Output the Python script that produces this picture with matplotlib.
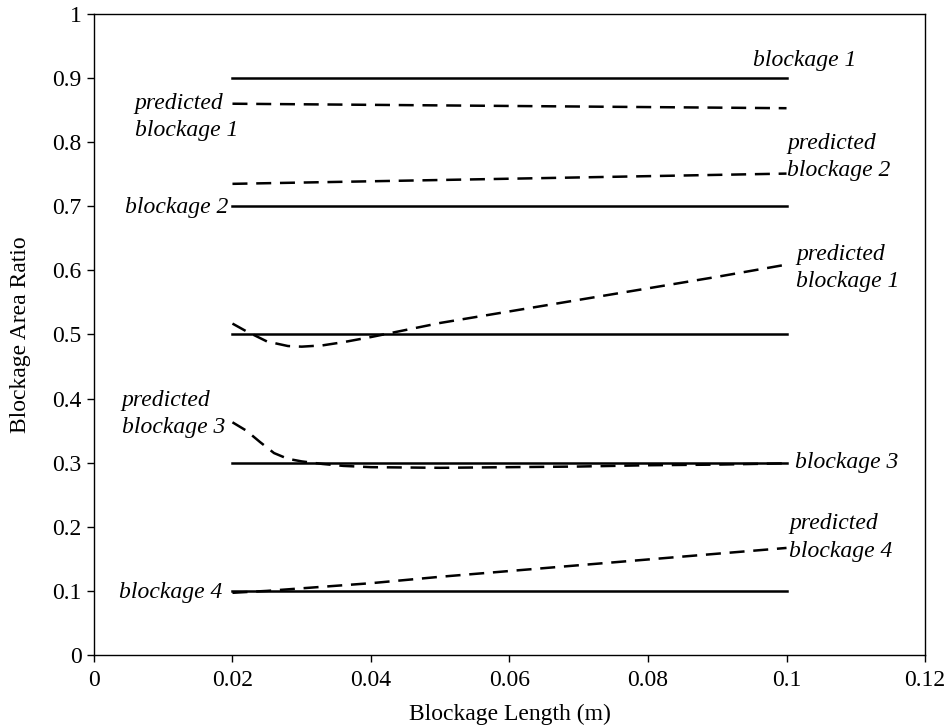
import matplotlib.pyplot as plt
import numpy as np

plt.rcParams['font.family'] = ['Liberation Serif', 'DejaVu Serif']

# actual blockages (constant across length)
x_ends = [0.02, 0.1]
actual = [0.9, 0.7, 0.5, 0.3, 0.1]

# predicted curves
x_p1_top = [0.02, 0.1]
y_p1_top = [0.860, 0.853]
x_p2 = [0.02, 0.1]
y_p2 = [0.735, 0.751]
x_p1_mid = [0.02, 0.022, 0.025, 0.028, 0.03, 0.033, 0.036, 0.04, 0.045, 0.05, 0.06, 0.07, 0.08, 0.09, 0.1]
y_p1_mid = [0.517, 0.505, 0.489, 0.482, 0.481, 0.483, 0.488, 0.496, 0.507, 0.518, 0.536, 0.554, 0.572, 0.590, 0.609]
x_p3 = [0.02, 0.022, 0.024, 0.026, 0.028, 0.03, 0.033, 0.036, 0.04, 0.05, 0.06, 0.07, 0.08, 0.09, 0.1]
y_p3 = [0.363, 0.350, 0.332, 0.315, 0.306, 0.302, 0.298, 0.295, 0.293, 0.292, 0.293, 0.294, 0.296, 0.297, 0.299]
x_p4 = [0.02, 0.025, 0.03, 0.04, 0.05, 0.06, 0.07, 0.08, 0.09, 0.1]
y_p4 = [0.097, 0.100, 0.104, 0.112, 0.122, 0.131, 0.140, 0.149, 0.158, 0.167]

fig = plt.figure(figsize=(9.51, 7.28), dpi=100)
ax = fig.add_axes([0.0988, 0.1003, 0.8739, 0.8805])

lw = 1.8
for v in actual:
    ax.plot(x_ends, [v, v], color='black', lw=lw)

dash = (0, (6, 3.5))
for xs, ys in [(x_p1_top, y_p1_top), (x_p2, y_p2), (x_p1_mid, y_p1_mid),
               (x_p3, y_p3), (x_p4, y_p4)]:
    ax.plot(xs, ys, color='black', lw=lw, linestyle=dash)

fs = 17
kw = dict(fontsize=fs, style='italic', va='center', linespacing=1.4)
ax.text(0.0952, 0.928, 'blockage 1', ha='left', **kw)
ax.text(0.0059, 0.839, 'predicted\nblockage 1', ha='left', **kw)
ax.text(0.1001, 0.777, 'predicted\nblockage 2', ha='left', **kw)
ax.text(0.0194, 0.698, 'blockage 2', ha='right', **kw)
ax.text(0.1014, 0.604, 'predicted\nblockage 1', ha='left', **kw)
ax.text(0.0040, 0.376, 'predicted\nblockage 3', ha='left', **kw)
ax.text(0.1012, 0.300, 'blockage 3', ha='left', **kw)
ax.text(0.1004, 0.183, 'predicted\nblockage 4', ha='left', **kw)
ax.text(0.0185, 0.098, 'blockage 4', ha='right', **kw)

ax.set_xlim(0, 0.12)
ax.set_ylim(0, 1)
ax.set_xticks([0, 0.02, 0.04, 0.06, 0.08, 0.1, 0.12])
ax.set_xticklabels(['0', '0.02', '0.04', '0.06', '0.08', '0.1', '0.12'])
ax.set_yticks(np.arange(0, 11) / 10)
ax.set_yticklabels(['0', '0.1', '0.2', '0.3', '0.4', '0.5', '0.6', '0.7', '0.8', '0.9', '1'])
ax.tick_params(direction='out', length=5, width=1, labelsize=fs, pad=4)
ax.tick_params(axis='x', pad=6)
ax.set_xlabel('Blockage Length (m)', fontsize=fs, labelpad=9)
ax.set_ylabel('Blockage Area Ratio', fontsize=fs, labelpad=15)
for s in ax.spines.values():
    s.set_linewidth(1)

fig.savefig('out.png', dpi=100)
